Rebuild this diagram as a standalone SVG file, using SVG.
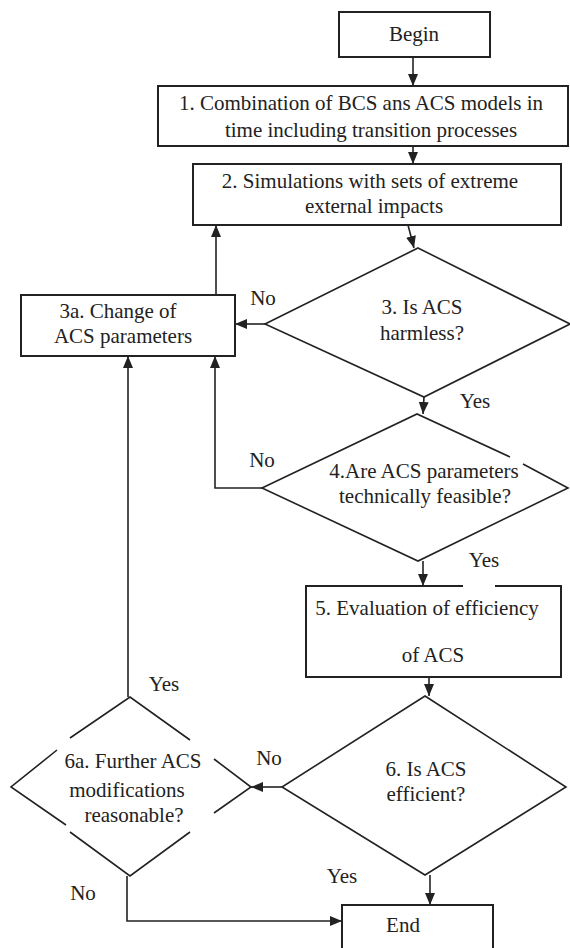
<svg xmlns="http://www.w3.org/2000/svg" width="570" height="948" viewBox="0 0 570 948">
<style>
.s{fill:none;stroke:#222;stroke-width:1.6}
.b{fill:none;stroke:#222;stroke-width:2}
.t{font-family:"Liberation Serif",serif;font-size:21px;fill:#222;text-anchor:middle}
.c{fill:none;stroke:#222;stroke-width:1.6}
</style>
<defs>
<marker id="ah" viewBox="0 0 12 10" refX="12" refY="5" markerWidth="12" markerHeight="10" markerUnits="userSpaceOnUse" orient="auto">
<path d="M0,0 L12,5 L0,10 Z" fill="#222"/>
</marker>
</defs>
<rect width="570" height="948" fill="#fff"/>
<g id="begin">
<rect class="b" x="339" y="12" width="151" height="45"/>
<text class="t" x="414" y="41" font-family="Liberation Serif">Begin</text>
</g>
<g id="n1">
<rect class="b" x="158" y="86" width="410" height="60"/>
<text class="t" x="361" y="110">1. Combination of BCS ans ACS models in</text>
<text class="t" x="371" y="137">time including transition processes</text>
</g>
<g id="n2">
<rect class="b" x="193" y="164" width="368" height="61"/>
<text class="t" x="370" y="188">2. Simulations with sets of extreme</text>
<text class="t" x="374" y="213">external impacts</text>
</g>
<g id="n3">
<polygon class="s" points="418,248 570,324 424,397 265,324"/>
<text class="t" x="422" y="314">3. Is ACS</text>
<text class="t" x="422" y="340">harmless?</text>
</g>
<g id="n3a">
<rect class="b" x="21" y="295" width="214" height="61"/>
<text class="t" x="118" y="318">3a. Change of</text>
<text class="t" x="123" y="343">ACS parameters</text>
</g>
<g id="n4">
<path class="s" d="M510,457 L417,414 L262,488 L418,561 L568,488 L523,464"/>
<text class="t" x="424" y="478">4.Are ACS parameters</text>
<text class="t" x="425" y="503">technically feasible?</text>
</g>
<g id="n5">
<path class="b" d="M463,586 L306,586 L306,677 L561,677 L561,586 L495,586"/>
<text class="t" x="427" y="615">5. Evaluation of efficiency</text>
<text class="t" x="433" y="662">of ACS</text>
</g>
<g id="n6">
<polygon class="s" points="425,696 566,787 425,875 282,787"/>
<text class="t" x="426" y="776">6. Is ACS</text>
<text class="t" x="426" y="801">efficient?</text>
</g>
<g id="n6a">
<path class="s" d="M70,738 L130,697 L190,740 M214,759 L251,787 L214,813 M190,832 L130,876 L70,832 M66,825 L11,787 L57,750"/>
<text class="t" x="133" y="768">6a. Further ACS</text>
<text class="t" x="127" y="797">modifications</text>
<text class="t" x="134" y="822">reasonable?</text>
</g>
<g id="end">
<rect class="b" x="342" y="905" width="151" height="50"/>
<text class="t" x="403" y="932">End</text>
</g>
<g id="connectors">
<line class="c" x1="413" y1="57" x2="413" y2="86" marker-end="url(#ah)"/>
<line class="c" x1="413" y1="146" x2="413" y2="164" marker-end="url(#ah)"/>
<line class="c" x1="408" y1="225" x2="414" y2="248" marker-end="url(#ah)"/>
<line class="c" x1="265" y1="324" x2="235" y2="324" marker-end="url(#ah)"/>
<line class="c" x1="216" y1="295" x2="216" y2="225" marker-end="url(#ah)"/>
<line class="c" x1="424" y1="397" x2="423" y2="414" marker-end="url(#ah)"/>
<polyline class="c" points="262,488 215,488 215,356" marker-end="url(#ah)"/>
<line class="c" x1="423" y1="561" x2="423" y2="586" marker-end="url(#ah)"/>
<line class="c" x1="429" y1="677" x2="429" y2="696" marker-end="url(#ah)"/>
<line class="c" x1="282" y1="787" x2="251" y2="787" marker-end="url(#ah)"/>
<line class="c" x1="128" y1="697" x2="128" y2="356" marker-end="url(#ah)"/>
<line class="c" x1="430" y1="875" x2="430" y2="905" marker-end="url(#ah)"/>
<polyline class="c" points="127,876 127,921 342,921" marker-end="url(#ah)"/>
</g>
<g id="labels">
<text class="t" x="263" y="305">No</text>
<text class="t" x="475" y="408">Yes</text>
<text class="t" x="262" y="467">No</text>
<text class="t" x="484" y="567">Yes</text>
<text class="t" x="164" y="691">Yes</text>
<text class="t" x="269" y="765">No</text>
<text class="t" x="342" y="883">Yes</text>
<text class="t" x="83" y="900">No</text>
</g>
</svg>
